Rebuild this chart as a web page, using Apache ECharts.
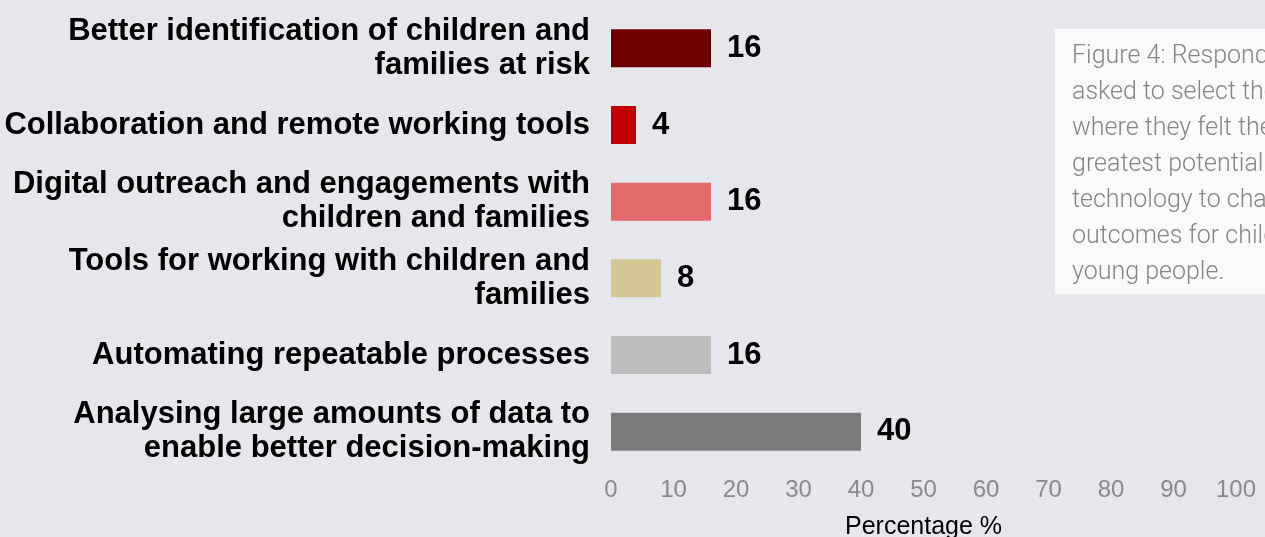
<!DOCTYPE html>
<html>
<head>
<meta charset="utf-8">
<script src="https://cdn.jsdelivr.net/npm/echarts@6/dist/echarts.min.js"></script>
<style>
  html, body { margin: 0; padding: 0; background: #e6e7ec; }
  #chart { width: 1265px; height: 537px; }
</style>
</head>
<body>
<div id="chart"></div>
<script>
// Survey areas, listed top to bottom
const categories = [
  'Better identification of children and\nfamilies at risk',
  'Collaboration and remote working tools',
  'Digital outreach and engagements with\nchildren and families',
  'Tools for working with children and\nfamilies',
  'Automating repeatable processes',
  'Analysing large amounts of data to\nenable better decision-making'
];
const percentages = [16, 4, 16, 8, 16, 40];
const barColors = ['#6e0000', '#c00000', '#e56b6b', '#d4c594', '#bdbdbd', '#7a7a7a'];
const xTicks = [0, 10, 20, 30, 40, 50, 60, 70, 80, 90, 100];
const caption = 'Figure 4: Respondents were\nasked to select the areas\nwhere they felt there was the\ngreatest potential for\ntechnology to change\noutcomes for children and\nyoung people.';

const SANS = '"Liberation Sans", Arial, Helvetica, sans-serif';

const chart = echarts.init(document.getElementById('chart'), null, { renderer: 'canvas' });

chart.setOption({
  backgroundColor: '#e6e7ec',
  animation: false,
  grid: { left: 611, right: 29, top: 10, bottom: 67, outerBoundsMode: 'none', containLabel: false },
  xAxis: {
    type: 'value',
    min: xTicks[0],
    max: xTicks[xTicks.length - 1],
    interval: 10,
    name: 'Percentage %',
    nameLocation: 'middle',
    nameGap: 45,
    nameTextStyle: { color: '#000', fontSize: 25, fontFamily: SANS },
    axisLine: { show: false },
    axisTick: { show: false },
    splitLine: { show: false },
    axisLabel: { color: '#8a8a8a', fontSize: 24, margin: 8, fontFamily: SANS }
  },
  yAxis: {
    type: 'category',
    inverse: true,
    data: categories,
    axisLine: { show: false },
    axisTick: { show: false },
    splitLine: { show: false },
    axisLabel: {
      color: '#000', fontSize: 31, fontWeight: 'bold', lineHeight: 34,
      margin: 21, align: 'right', fontFamily: SANS
    }
  },
  series: [{
    type: 'bar',
    barWidth: 38,
    data: percentages.map((v, i) => ({ value: v, itemStyle: { color: barColors[i] } })),
    label: {
      show: true,
      position: 'right',
      distance: 16,
      color: '#000',
      fontSize: 31,
      fontWeight: 'bold',
      fontFamily: SANS
    }
  }],
  graphic: [
    {
      type: 'rect',
      left: 1055, top: 29,
      shape: { width: 260, height: 265 },
      style: { fill: '#fafafa' },
      z: 10
    },
    {
      type: 'text',
      left: 1072, top: 39,
      style: {
        text: caption,
        fill: '#858585',
        font: '300 25px Roboto, "Open Sans", sans-serif',
        lineHeight: 36
      },
      z: 11
    }
  ]
});
</script>
</body>
</html>
